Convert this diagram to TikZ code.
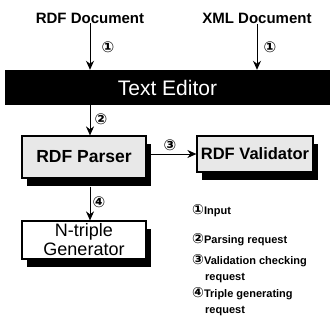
\documentclass[tikz,border=0pt]{standalone}
\usepackage{fontspec}
\setmainfont{Liberation Sans}
\newfontfamily\circfont{DejaVu Sans}
\newcommand\lnum[1]{{\circfont\bfseries\fontsize{14}{16}\selectfont #1}}
\usetikzlibrary{arrows.meta,shadows,calc}
\tikzset{
  x=1pt, y=1pt,
  flow/.style={draw=black, line width=1pt, -{Stealth[length=9pt,width=8pt]}},
  heading/.style={font=\bfseries\fontsize{15}{16}\selectfont, inner sep=0pt},
  num/.style={font=\circfont\bfseries\fontsize{15}{16}\selectfont, inner sep=0pt},
  module/.style={draw=black, line width=1.2pt, inner sep=0pt,
    drop shadow={shadow xshift=5pt, shadow yshift=-8pt, fill=black, opacity=1}},
  legend/.style={font=\bfseries\fontsize{11}{16}\selectfont, inner sep=0pt, anchor=west, align=left}
}
\begin{document}
\begin{tikzpicture}
  \useasboundingbox (0,0) rectangle (330,-331);

  % source documents
  \node[heading] (rdfdoc) at (90,-18) {RDF Document};
  \node[heading] (xmldoc) at (257,-18) {XML Document};

  % editor bar
  \node[fill=black, text=white, minimum width=325pt, minimum height=35pt, inner sep=0pt,
        font=\fontsize{21}{22}\selectfont] (editor) at (167.5,-87.5) {Text Editor};

  % processing modules
  \node[module, fill=gray!18, minimum width=124pt, minimum height=42pt,
        font=\bfseries\fontsize{17.5}{18}\selectfont] (parser) at (84,-157) {RDF Parser};
  \node[module, fill=gray!18, minimum width=116pt, minimum height=36pt,
        font=\bfseries\fontsize{16.5}{17}\selectfont] (validator) at (255,-154) {RDF Validator};
  \node[module, fill=white, minimum width=124pt, minimum height=38pt, align=center,
        font=\fontsize{18}{19}\selectfont] (generator) at (84,-240) {N-triple\\Generator};

  % connectors
  \draw[flow] (rdfdoc.south) -- (rdfdoc.south |- editor.north);
  \draw[flow] ([yshift=-1pt]xmldoc.south) -- (xmldoc.south |- editor.north);
  \draw[flow] (editor.south -| rdfdoc) -- (parser.north -| rdfdoc);
  \draw[flow] (parser.east |- validator.west) -- (validator.west);
  \coordinate (pbottom) at ($(parser.south -| rdfdoc)+(0,-8)$);
  \draw[flow] (pbottom) -- (generator.north -| rdfdoc);

  % connector numbers
  \node[num] (n1a) at (108,-47) {①};
  \node[num] (n1b) at (270,-47) {①};
  \node[num] (n2) at (101,-119) {②};
  \node[num] (n3) at (170,-145) {③};
  \node[num] (n4) at (99,-202) {④};

  % legend
  \node[legend] (l1) at (192,-211) {\lnum{①}Input};
  \node[legend] (l2) at (192,-240) {\lnum{②}Parsing request};
  \node[legend] (l3) at (192,-269) {\lnum{③}Validation checking\\\hspace*{13pt}request};
  \node[legend] (l4) at (192,-302) {\lnum{④}Triple generating\\\hspace*{13pt}request};
\end{tikzpicture}
\end{document}
